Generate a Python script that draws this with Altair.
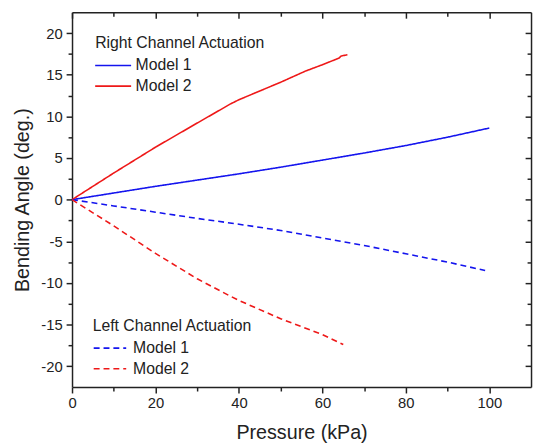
import altair as alt
import pandas as pd

# ---- data ----
r1_x = [0, 10, 20, 30, 40, 50, 60, 70, 80, 90, 100]
r1_y = [0, 0.8, 1.6, 2.35, 3.1, 3.9, 4.75, 5.6, 6.5, 7.5, 8.6]

r2_x = [0, 10, 20, 30, 38, 40, 50, 56, 60, 64, 64.5, 66]
r2_y = [0, 3.2, 6.3, 9.2, 11.5, 12.0, 14.1, 15.45, 16.2, 17.0, 17.25, 17.4]

l1_x = [0, 10, 20, 30, 40, 50, 60, 70, 80, 90, 99]
l1_y = [0, -0.75, -1.5, -2.25, -2.95, -3.7, -4.6, -5.5, -6.5, -7.5, -8.5]

l2_x = [0, 10, 20, 30, 38, 40, 50, 60, 65]
l2_y = [0, -3.15, -6.45, -9.5, -11.6, -12.1, -14.3, -16.2, -17.4]

models = ["Model 1", "Model 2"]
colors = ["#1414ee", "#ee1818"]
x_ticks = [0, 10, 20, 30, 40, 50, 60, 70, 80, 90, 100]
y_ticks = [-20, -17.5, -15, -12.5, -10, -7.5, -5, -2.5, 0, 2.5, 5, 7.5, 10, 12.5, 15, 17.5, 20]

rows = []
for xs, ys, model, side in [(r1_x, r1_y, "Model 1", "Right"), (r2_x, r2_y, "Model 2", "Right"),
                            (l1_x, l1_y, "Model 1", "Left"), (l2_x, l2_y, "Model 2", "Left")]:
    for i, (a, b) in enumerate(zip(xs, ys)):
        rows.append({"p": a, "angle": b, "model": model, "side": side, "series": model + side, "order": i})
df = pd.DataFrame(rows)

W, H = 466, 380.5
FONT = "Liberation Sans"

xscale = alt.Scale(domain=[0, 110], nice=False, zero=False)
yscale = alt.Scale(domain=[-22.5, 22.5], nice=False, zero=False)
cscale = alt.Scale(domain=models, range=colors)
dscale = alt.Scale(domain=["Right", "Left"], range=[[1, 0], [6, 4]])

tick_x = {"condition": {"test": "datum.value % 20 == 0", "value": 6}, "value": 4}
tick_y = {"condition": {"test": "datum.value % 5 == 0", "value": 6}, "value": 4}

line_axis = dict(domainColor="#222", domainWidth=1.5, tickColor="#222", tickWidth=1.5, grid=False)
common_axis = dict(labelFont=FONT, labelFontSize=15, labelColor="#222",
                   titleFont=FONT, titleFontSize=20, titleColor="#222", titleFontWeight="normal",
                   **line_axis)

x_main = alt.Axis(orient="bottom", values=x_ticks, tickSize=tick_x,
                  labelExpr="datum.value % 20 == 0 ? '' + datum.value : ''",
                  labelPadding=3, labelFlush=False, labelOverlap=False,
                  title="Pressure (kPa)", titlePadding=12, **common_axis)
y_main = alt.Axis(orient="left", values=y_ticks, tickSize=tick_y,
                  labelExpr="datum.value % 5 == 0 ? '' + datum.value : ''",
                  labelPadding=4, labelFlush=False, labelOverlap=False,
                  title="Bending Angle (deg.)", titlePadding=8, **common_axis)

x_top = alt.Axis(orient="bottom", offset=-H, values=x_ticks, tickSize=tick_x,
                 labels=False, title=None, **line_axis)
y_right = alt.Axis(orient="left", offset=-W, values=y_ticks, tickSize=tick_y,
                   labels=False, title=None, **line_axis)

lines = alt.Chart(df).mark_line(strokeWidth=1.6, clip=True).encode(
    x=alt.X("p:Q", scale=xscale, axis=x_main),
    y=alt.Y("angle:Q", scale=yscale, axis=y_main),
    color=alt.Color("model:N", scale=cscale, legend=None),
    strokeDash=alt.StrokeDash("side:N", scale=dscale, legend=None),
    detail="series:N",
    order="order:Q",
)

frame = alt.Chart(df).mark_line(opacity=0).encode(
    x=alt.X("p:Q", scale=xscale, axis=x_top),
    y=alt.Y("angle:Q", scale=yscale, axis=y_right),
    detail="series:N",
)

# ---- hand-made legends ----
ONE = "datum.order == 0 && datum.series == 'Model 1Right'"

def leg_text(txt, x, y):
    return alt.Chart(df).mark_text(text=txt, align="left", baseline="middle", font=FONT,
                                   fontSize=16, color="#222").encode(
        x=alt.value(x), y=alt.value(y)).transform_filter(ONE)

def leg_line(x1, x2, y, color, dash):
    m = alt.Chart(df).mark_rule(strokeWidth=1.6, color=color, strokeDash=dash)
    return m.encode(x=alt.value(x1), x2=alt.value(x2), y=alt.value(y)).transform_filter(ONE)

legend_layers = [
    leg_text("Right Channel Actuation", 23.5, 31),
    leg_line(23.5, 60, 54, colors[0], [1, 0]),
    leg_text("Model 1", 64.5, 54),
    leg_line(23.5, 60, 75, colors[1], [1, 0]),
    leg_text("Model 2", 64.5, 75),
    leg_text("Left Channel Actuation", 21, 318.5),
    leg_line(22, 55, 341, colors[0], [6, 4]),
    leg_text("Model 1", 62, 341),
    leg_line(22, 55, 362, colors[1], [6, 4]),
    leg_text("Model 2", 62, 362),
]

chart = alt.layer(lines, frame, *legend_layers).resolve_axis(
    x="independent", y="independent"
).properties(
    width=W, height=H,
    autosize=alt.AutoSizeParams(type="none"),
    padding={"left": 65, "top": 1, "right": 2, "bottom": 56},
    background="white",
).configure_view(stroke=None)

chart.save("out.html", embed_options={"renderer": "svg", "actions": False})
